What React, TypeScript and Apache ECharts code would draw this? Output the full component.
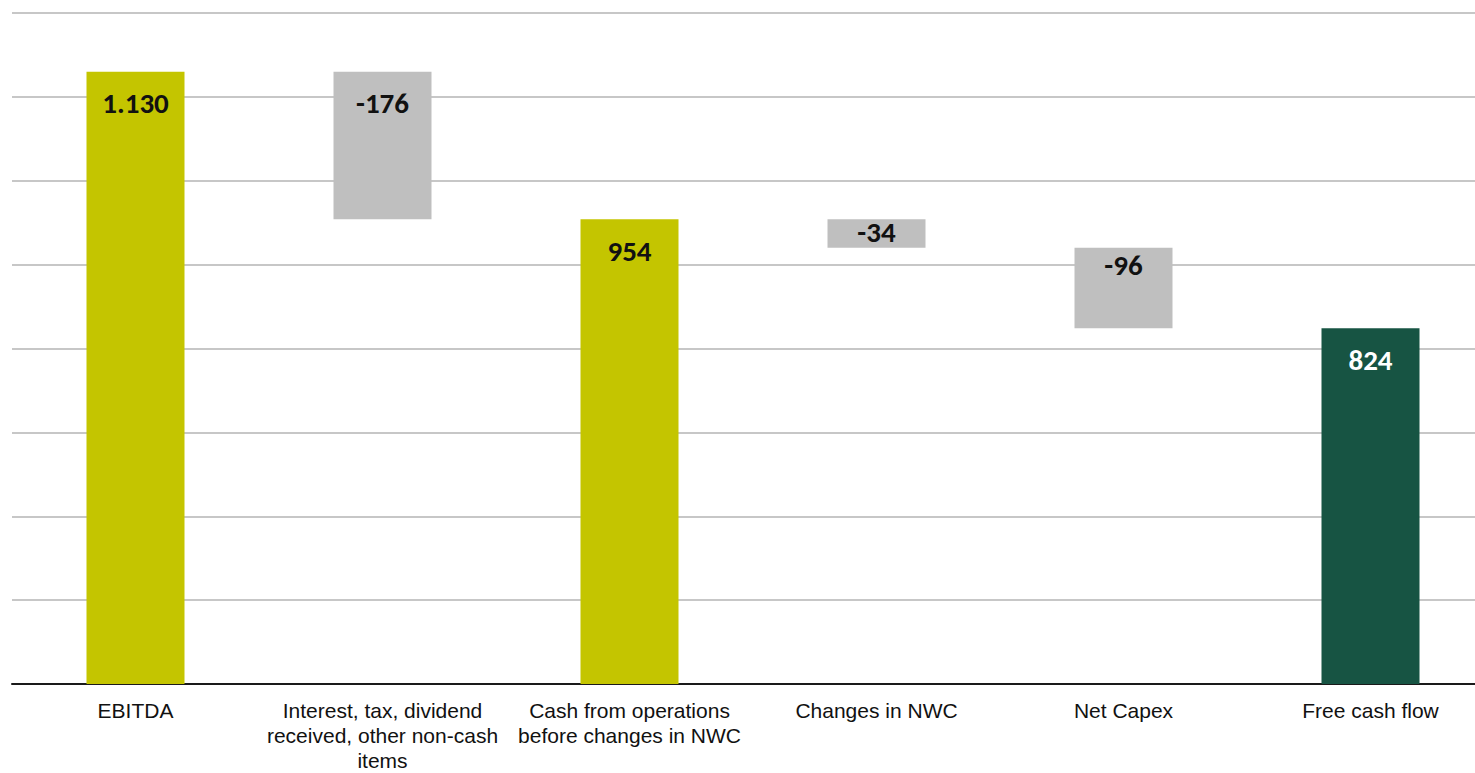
import React, { useEffect, useRef } from "react";
import * as echarts from "echarts";

const categories = [
  "EBITDA",
  "Interest, tax, dividend\nreceived, other non-cash\nitems",
  "Cash from operations\nbefore changes in NWC",
  "Changes in NWC",
  "Net Capex",
  "Free cash flow",
];
const values = [1130, -176, 954, -34, -96, 824];
const kinds = ["total", "delta", "total", "delta", "delta", "final"];
const yMin = 400;
const yMax = 1200;
const yStep = 100;

const colors: Record<string, string> = {
  total: "#C4C500",
  delta: "#BFBFBF",
  final: "#175443",
};

function fmt(v: number): string {
  const s = Math.abs(v).toString().replace(/\B(?=(\d{3})+(?!\d))/g, ".");
  return (v < 0 ? "-" : "") + s;
}

export default function App() {
  const ref = useRef<HTMLDivElement>(null);
  useEffect(() => {
    if (!ref.current) return;
    const chart = echarts.init(ref.current, null, { renderer: "svg" });
    const base: number[] = [];
    const heights: number[] = [];
    let running = 0;
    values.forEach((v, i) => {
      if (kinds[i] === "delta") {
        const next = running + v;
        base.push(Math.min(running, next));
        heights.push(Math.abs(v));
        running = next;
      } else {
        base.push(0);
        heights.push(v);
        running = v;
      }
    });
    const dist = (v: number) => (Math.abs(v) >= 150 ? 17 : Math.abs(v) >= 60 ? 3 : -2);
    chart.setOption({
      animation: false,
      grid: { left: 12, right: 6, top: 13, bottom: 84, containLabel: false },
      xAxis: {
        type: "category",
        data: categories,
        axisLine: { show: true, lineStyle: { color: "#1a1a1a", width: 2 } },
        axisTick: { show: false },
        axisLabel: {
          interval: 0,
          margin: 14,
          color: "#111",
          fontFamily: "'Liberation Sans', Arial, sans-serif",
          fontSize: 21,
          lineHeight: 25,
        },
      },
      yAxis: {
        type: "value",
        min: yMin,
        max: yMax,
        interval: yStep,
        axisLabel: { show: false },
        axisLine: { show: false },
        axisTick: { show: false },
        splitLine: { show: true, lineStyle: { color: "#B4B4B4", width: 1.5 } },
      },
      series: [
        {
          type: "bar",
          stack: "w",
          data: base,
          itemStyle: { color: "transparent" },
          barWidth: 98,
          silent: true,
        },
        {
          type: "bar",
          stack: "w",
          barWidth: 98,
          data: heights.map((h, i) => ({
            value: h,
            itemStyle: { color: colors[kinds[i]] },
            label: {
              show: true,
              position: "insideTop",
              distance: dist(values[i]),
              formatter: fmt(values[i]),
              color: kinds[i] === "final" ? "#ffffff" : "#111111",
              fontFamily: "Carlito, Lato, sans-serif",
              fontWeight: "bold",
              fontSize: 29,
            },
          })),
        },
      ],
    });
    return () => chart.dispose();
  }, []);
  return (
    <div
      style={{
        position: "absolute",
        left: 0,
        top: 0,
        width: 1475,
        height: 773,
        overflow: "hidden",
      }}
    >
      <div ref={ref} style={{ width: 1500, height: 773 }} />
    </div>
  );
}
